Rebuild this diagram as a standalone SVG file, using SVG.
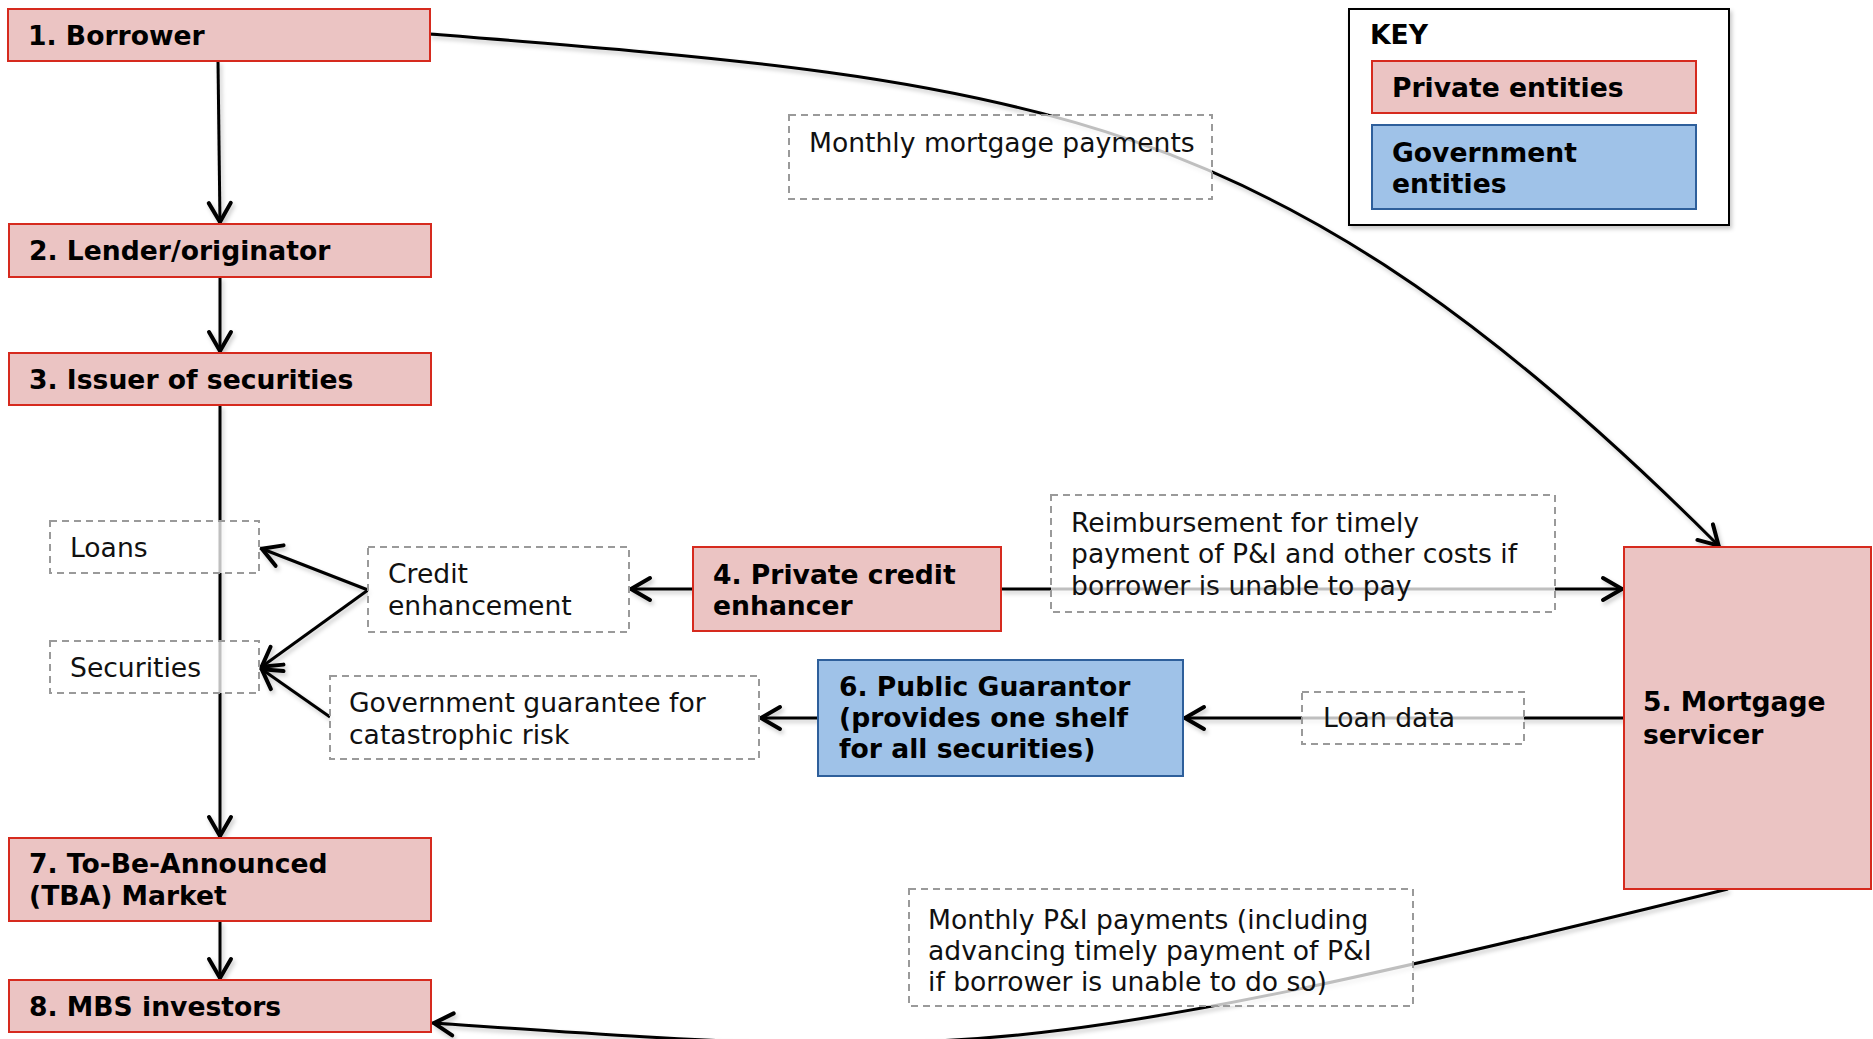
<svg xmlns="http://www.w3.org/2000/svg" width="1873" height="1039" viewBox="0 0 1873 1039">
  <style>
    .priv { fill: #EBC4C3; stroke: #D62A1E; stroke-width: 2; }
    .gov { fill: #9FC2E8; stroke: #2E5F9B; stroke-width: 2; }
    .lbl { fill: #ffffff; fill-opacity: 0.75; stroke: #9a9a9a; stroke-width: 2; stroke-dasharray: 7 5; }
    .bt { font-family: "DejaVu Sans", Verdana, sans-serif; font-weight: bold; font-size: 26.6px; fill: #000; }
    .rt { font-family: "DejaVu Sans", Verdana, sans-serif; font-size: 26.6px; fill: #111; }
    .ln { fill: none; stroke: #000; stroke-width: 3; marker-end: url(#arr); }
  </style>
  <defs>
    <marker id="arr" markerUnits="userSpaceOnUse" markerWidth="34" markerHeight="34" viewBox="-28 -17 34 34" refX="0" refY="0" orient="auto">
      <path d="M-21,-11 L-2,0 L-21,11" fill="none" stroke="#000" stroke-width="4" stroke-linejoin="round" stroke-linecap="round"/>
    </marker>
    <filter id="sh" x="-10%" y="-10%" width="120%" height="130%">
      <feDropShadow dx="2" dy="3" stdDeviation="2" flood-color="#000" flood-opacity="0.22"/>
    </filter>
  </defs>
  <rect width="1873" height="1039" fill="#ffffff"/>

  <g id="connectors" filter="url(#sh)">
    <path class="ln" d="M218,61 L220,224"/>
    <path class="ln" d="M220,277 L220,353"/>
    <path class="ln" d="M220,405 L220,838"/>
    <path class="ln" d="M220,921 L220,980"/>
    <path class="ln" d="M430,34 C1030,82 1272,99 1720,547"/>
    <path class="ln" d="M1728,889 C1000,1068 960,1058 432,1023"/>
    <path class="ln" d="M693,589 L629,589"/>
    <path class="ln" d="M1001,589 L1624,589"/>
    <path class="ln" d="M368,590 L260,548"/>
    <path class="ln" d="M368,590 L260,668"/>
    <path class="ln" d="M330,717 L260,668"/>
    <path class="ln" d="M818,718 L759,718"/>
    <path class="ln" d="M1624,718 L1183,718"/>
  </g>

  <g id="n1">
    <rect class="priv" x="8" y="9" width="422" height="52"/>
    <text class="bt" x="28" y="45">1. Borrower</text>
  </g>
  <g id="n2">
    <rect class="priv" x="9" y="224" width="422" height="53"/>
    <text class="bt" x="29" y="260">2. Lender/originator</text>
  </g>
  <g id="n3">
    <rect class="priv" x="9" y="353" width="422" height="52"/>
    <text class="bt" x="29" y="389">3. Issuer of securities</text>
  </g>
  <g id="loans">
    <rect class="lbl" x="50" y="521" width="209" height="52"/>
    <text class="rt" x="70" y="557">Loans</text>
  </g>
  <g id="securities">
    <rect class="lbl" x="50" y="641" width="209" height="52"/>
    <text class="rt" x="70" y="677">Securities</text>
  </g>
  <g id="credit-enhancement">
    <rect class="lbl" x="368" y="547" width="261" height="85"/>
    <text class="rt" x="388" y="583">Credit</text>
    <text class="rt" x="388" y="615">enhancement</text>
  </g>
  <g id="n4">
    <rect class="priv" x="693" y="547" width="308" height="84"/>
    <text class="bt" x="713" y="584">4. Private credit</text>
    <text class="bt" x="713" y="615">enhancer</text>
  </g>
  <g id="reimbursement">
    <rect class="lbl" x="1051" y="495" width="504" height="117"/>
    <text class="rt" x="1071" y="532">Reimbursement for timely</text>
    <text class="rt" x="1071" y="563">payment of P&amp;I and other costs if</text>
    <text class="rt" x="1071" y="595">borrower is unable to pay</text>
  </g>
  <g id="n5">
    <rect class="priv" x="1624" y="547" width="247" height="342"/>
    <text class="bt" x="1643" y="711">5. Mortgage</text>
    <text class="bt" x="1643" y="744">servicer</text>
  </g>
  <g id="gov-guarantee">
    <rect class="lbl" x="330" y="676" width="429" height="83"/>
    <text class="rt" x="349" y="712">Government guarantee for</text>
    <text class="rt" x="349" y="744">catastrophic risk</text>
  </g>
  <g id="n6">
    <rect class="gov" x="818" y="660" width="365" height="116"/>
    <text class="bt" x="839" y="696">6. Public Guarantor</text>
    <text class="bt" x="839" y="727">(provides one shelf</text>
    <text class="bt" x="839" y="758">for all securities)</text>
  </g>
  <g id="loan-data">
    <rect class="lbl" x="1302" y="692" width="222" height="52"/>
    <text class="rt" x="1323" y="727">Loan data</text>
  </g>
  <g id="n7">
    <rect class="priv" x="9" y="838" width="422" height="83"/>
    <text class="bt" x="29" y="873">7. To-Be-Announced</text>
    <text class="bt" x="29" y="905">(TBA) Market</text>
  </g>
  <g id="n8">
    <rect class="priv" x="9" y="980" width="422" height="52"/>
    <text class="bt" x="29" y="1016">8. MBS investors</text>
  </g>
  <g id="monthly-mortgage">
    <rect class="lbl" x="789" y="115" width="423" height="84"/>
    <text class="rt" x="809" y="152">Monthly mortgage payments</text>
  </g>
  <g id="monthly-pi">
    <rect class="lbl" x="909" y="889" width="504" height="117"/>
    <text class="rt" x="928" y="929">Monthly P&amp;I payments (including</text>
    <text class="rt" x="928" y="960">advancing timely payment of P&amp;I</text>
    <text class="rt" x="928" y="991">if borrower is unable to do so)</text>
  </g>
  <g id="key">
    <rect x="1349" y="9" width="380" height="216" fill="#fff" stroke="#000" stroke-width="2" filter="url(#sh)"/>
    <text class="bt" x="1370" y="44">KEY</text>
    <rect class="priv" x="1372" y="61" width="324" height="52"/>
    <text class="bt" x="1392" y="97">Private entities</text>
    <rect class="gov" x="1372" y="125" width="324" height="84"/>
    <text class="bt" x="1392" y="162">Government</text>
    <text class="bt" x="1392" y="193">entities</text>
  </g>
</svg>
